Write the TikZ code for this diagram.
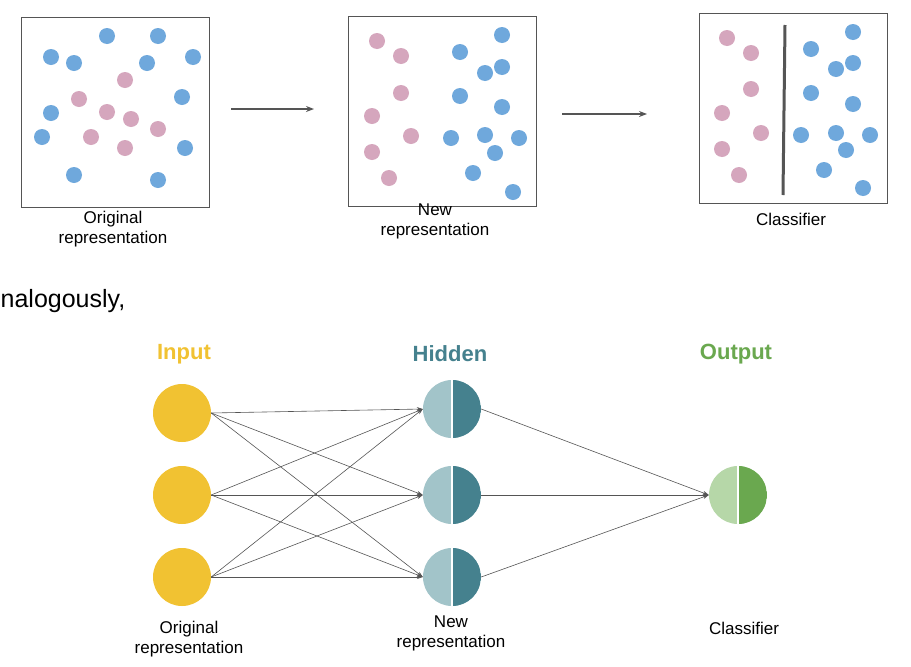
\documentclass[tikz,border=0pt]{standalone}
\usepackage{fontspec}
\setmainfont{Liberation Sans}
\usetikzlibrary{arrows.meta}
\definecolor{dotblue}{HTML}{6FA8DC}
\definecolor{dotpink}{HTML}{D5A6BD}
\definecolor{framegray}{HTML}{555555}
\definecolor{inyellow}{HTML}{F1C232}
\definecolor{hidlight}{HTML}{A2C4C9}
\definecolor{hiddark}{HTML}{45818E}
\definecolor{outlight}{HTML}{B6D7A8}
\definecolor{outdark}{HTML}{6AA84F}
\begin{document}
\begin{tikzpicture}[x=1pt,y=-1pt,
  panel/.style={draw=framegray, line width=1pt, minimum width=188pt, minimum height=190pt, inner sep=0pt},
  bdot/.style={fill=dotblue},
  pdot/.style={fill=dotpink},
  lbl/.style={font=\fontsize{17}{20}\selectfont, align=center, text=black, inner sep=0pt},
  ttl/.style={font=\fontsize{22}{24}\selectfont\bfseries, inner sep=0pt},
  bigarrow/.style={draw=framegray, line width=1.4pt, -{Stealth[length=8pt,width=6pt]}},
  conn/.style={draw=framegray, line width=0.6pt, -{Stealth[length=6pt,width=4pt]}},
  innode/.style={circle, fill=inyellow, minimum size=58pt, inner sep=0pt},
  splitnode/.style 2 args={circle, fill=#1, minimum size=58pt, inner sep=0pt,
    path picture={\fill[#2] (path picture bounding box.north) rectangle (path picture bounding box.south east);
      \draw[white, line width=1.2pt] (path picture bounding box.north) -- (path picture bounding box.south);}},
]
\useasboundingbox[fill=white] (0,0) rectangle (911,667);

% ---- top row: panels ----
\node[panel] (box1) at (115,112) {};
\node[panel] (box2) at (442.5,111.5) {};
\node[panel] (box3) at (793.5,108) {};

\foreach \p in {(107,36),(158,36),(51,57),(74,63),(147,63),(193,57),(182,97),(51,113),(42,137),(185,148),(74,175),(158,180)}
  \fill[bdot] \p circle (8);
\foreach \p in {(125,80),(79,99),(107,112),(131,119),(158,129),(91,137),(125,148)}
  \fill[pdot] \p circle (8);

\foreach \p in {(377,41),(401,56),(401,93),(372,116),(411,136),(372,152),(389,178)}
  \fill[pdot] \p circle (8);
\foreach \p in {(502,35),(460,52),(502,67),(485,73),(460,96),(502,107),(451,138),(485,135),(519,138),(495,153),(473,173),(513,192)}
  \fill[bdot] \p circle (8);

\foreach \p in {(727,38),(751,53),(751,89),(722,113),(761,133),(722,149),(739,175)}
  \fill[pdot] \p circle (8);
\foreach \p in {(853,32),(811,49),(853,63),(836,69),(811,93),(853,104),(801,135),(836,133),(870,135),(846,150),(824,170),(863,188)}
  \fill[bdot] \p circle (8);

\coordinate (sepTop) at (785,25);
\coordinate (sepBot) at (783,195);
\draw[framegray, line width=3pt] (sepTop) -- (sepBot);

\node[lbl] (lab1) at (113,229) {Original\\representation};
\node[lbl] (lab2) at (435,221) {New\\representation};
\node[lbl] (lab3) at (791,219) {Classifier};

\coordinate (a1s) at (231,109);
\coordinate (a1e) at (314,109);
\coordinate (a2s) at (562,114);
\coordinate (a2e) at (647,114);
\draw[bigarrow] (a1s) -- (a1e);
\draw[bigarrow] (a2s) -- (a2e);

% ---- text ----
\node[anchor=base west, font=\fontsize{25}{28}\selectfont, inner sep=0pt] (analog) at (0.5,307) {nalogously,};

% ---- network ----
\node[ttl, text=inyellow] (tin) at (184,354) {Input};
\node[ttl, text=hiddark] (thid) at (450,354) {Hidden};
\node[ttl, text=outdark] (tout) at (736,354) {Output};

\node[innode] (i1) at (182,413) {};
\node[innode] (i2) at (182,495) {};
\node[innode] (i3) at (182,577) {};

\node[splitnode={hidlight}{hiddark}] (h1) at (452,409) {};
\node[splitnode={hidlight}{hiddark}] (h2) at (452,495) {};
\node[splitnode={hidlight}{hiddark}] (h3) at (452,577) {};

\node[splitnode={outlight}{outdark}] (o1) at (738,495) {};

\foreach \i in {1,2,3}{
  \foreach \j in {1,2,3}{
    \draw[conn] (i\i.east) -- (h\j.west);
  }
  \draw[conn] (h\i.east) -- (o1.west);
}

\node[lbl] (blab1) at (189,639) {Original\\representation};
\node[lbl] (blab2) at (451,633) {New\\representation};
\node[lbl] (blab3) at (744,628) {Classifier};
\end{tikzpicture}
\end{document}
